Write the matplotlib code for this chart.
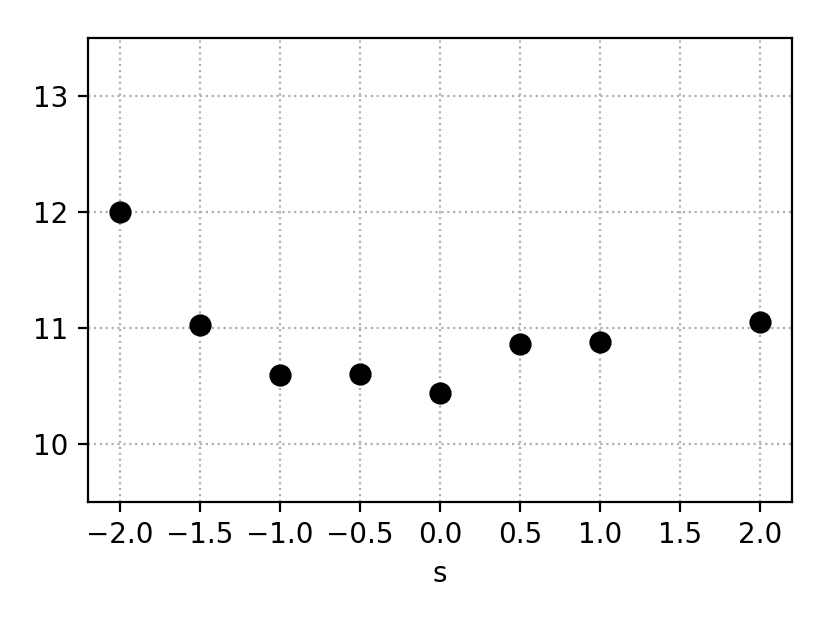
import numpy as np
import matplotlib
matplotlib.use("Agg")
import matplotlib.pyplot as plt

s_vals = [-2.0, -1.5, -1.0, -0.5, 0.0, 0.5, 1.0, 2.0]
y_vals = [12.0, 11.02, 10.59, 10.60, 10.44, 10.86, 10.88, 11.05]

fig, ax = plt.subplots(figsize=(4.15, 3.115), dpi=200)
ax.plot(s_vals, y_vals, 'o', color='black', ms=7, zorder=3)
ax.set_xlim(-2.2, 2.2)
ax.set_ylim(9.5, 13.5)
ax.set_xticks(np.arange(-2.0, 2.01, 0.5))
ax.set_yticks([10, 11, 12, 13])
ax.grid(True, linestyle=':', color='#b0b0b0', lw=0.8)
ax.set_xlabel("s")
fig.subplots_adjust(left=0.106, right=0.954, top=0.939, bottom=0.195)
fig.savefig("out.png", dpi=200)
